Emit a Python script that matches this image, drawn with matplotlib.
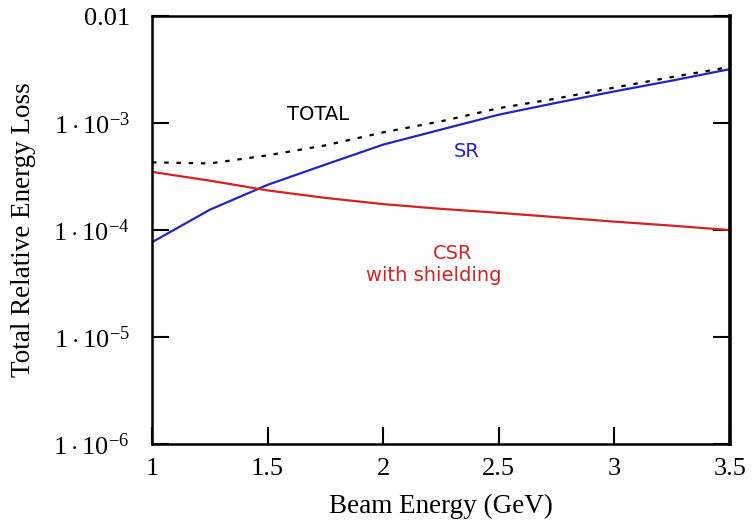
import numpy as np
import matplotlib.pyplot as plt
from matplotlib.ticker import FixedLocator, FixedFormatter, NullLocator

# ---------------------------------- Data ----------------------------------
energy = [1.0, 1.25, 1.5, 1.75, 2.0, 2.25, 2.5, 2.75, 3.0, 3.25, 3.5]   # GeV
sr = [7.7e-5, 1.55e-4, 2.65e-4, 4.1e-4, 6.3e-4, 8.7e-4, 1.2e-3, 1.55e-3, 1.98e-3, 2.5e-3, 3.2e-3]
csr = [3.5e-4, 2.9e-4, 2.35e-4, 2.0e-4, 1.75e-4, 1.58e-4, 1.45e-4, 1.32e-4, 1.2e-4, 1.1e-4, 1.0e-4]
total = [4.3e-4, 4.2e-4, 5.0e-4, 6.2e-4, 8.2e-4, 1.04e-3, 1.38e-3, 1.7e-3, 2.15e-3, 2.7e-3, 3.35e-3]

x_ticks = [1, 1.5, 2, 2.5, 3, 3.5]
x_ticklabels = ['1', '1.5', '2', '2.5', '3', '3.5']
y_ticks = [1e-6, 1e-5, 1e-4, 1e-3, 1e-2]
y_ticklabels = [r'$1\cdot10^{-6}$', r'$1\cdot10^{-5}$', r'$1\cdot10^{-4}$', r'$1\cdot10^{-3}$', '0.01']

plt.rcParams['font.family'] = 'Liberation Serif'
plt.rcParams['mathtext.fontset'] = 'custom'
plt.rcParams['mathtext.rm'] = 'Liberation Serif'
plt.rcParams['mathtext.it'] = 'Liberation Serif'

fig = plt.figure(figsize=(7.54, 5.22), dpi=100)
ax = fig.add_axes([0.2016, 0.1494, 0.7666, 0.8196])

ax.plot(energy, sr, color='#2424c0', lw=1.6)
ax.plot(energy, csr, color='#d42222', lw=1.6)
ax.plot(energy, total, color='black', lw=1.6, linestyle=(0, (2, 3.5)))

ax.set_yscale('log')
ax.set_xlim(1, 3.5)
ax.set_ylim(1e-6, 1e-2)

ax.xaxis.set_major_locator(FixedLocator(x_ticks))
ax.xaxis.set_major_formatter(FixedFormatter(x_ticklabels))
ax.yaxis.set_major_locator(FixedLocator(y_ticks))
ax.yaxis.set_major_formatter(FixedFormatter(y_ticklabels))
ax.yaxis.set_minor_locator(NullLocator())
ax.tick_params(axis='both', direction='in', length=12, width=1.5, labelsize=19)
ax.tick_params(axis='y', right=True, pad=16)
ax.tick_params(axis='x', pad=10)

for side in ['left', 'bottom', 'right', 'top']:
    ax.spines[side].set_linewidth(1.8)
ax.spines['right'].set_linewidth(2.6)

ax.set_xlabel('Beam Energy (GeV)', fontsize=19.5, labelpad=10)
ax.set_ylabel('Total Relative Energy Loss', fontsize=19.5, labelpad=12)

# Curve labels
lab = dict(fontsize=14, family='DejaVu Sans', ha='center', va='center')
ax.text(1.72, 1.21e-3, 'TOTAL', color='black', **lab)
ax.text(2.36, 5.4e-4, 'SR', color='#2424c0', **lab)
ax.text(2.30, 6.1e-5, 'CSR', color='#d42222', **lab)
ax.text(2.22, 3.8e-5, 'with shielding', color='#d42222', **lab)

fig.savefig('out.png', dpi=100)
